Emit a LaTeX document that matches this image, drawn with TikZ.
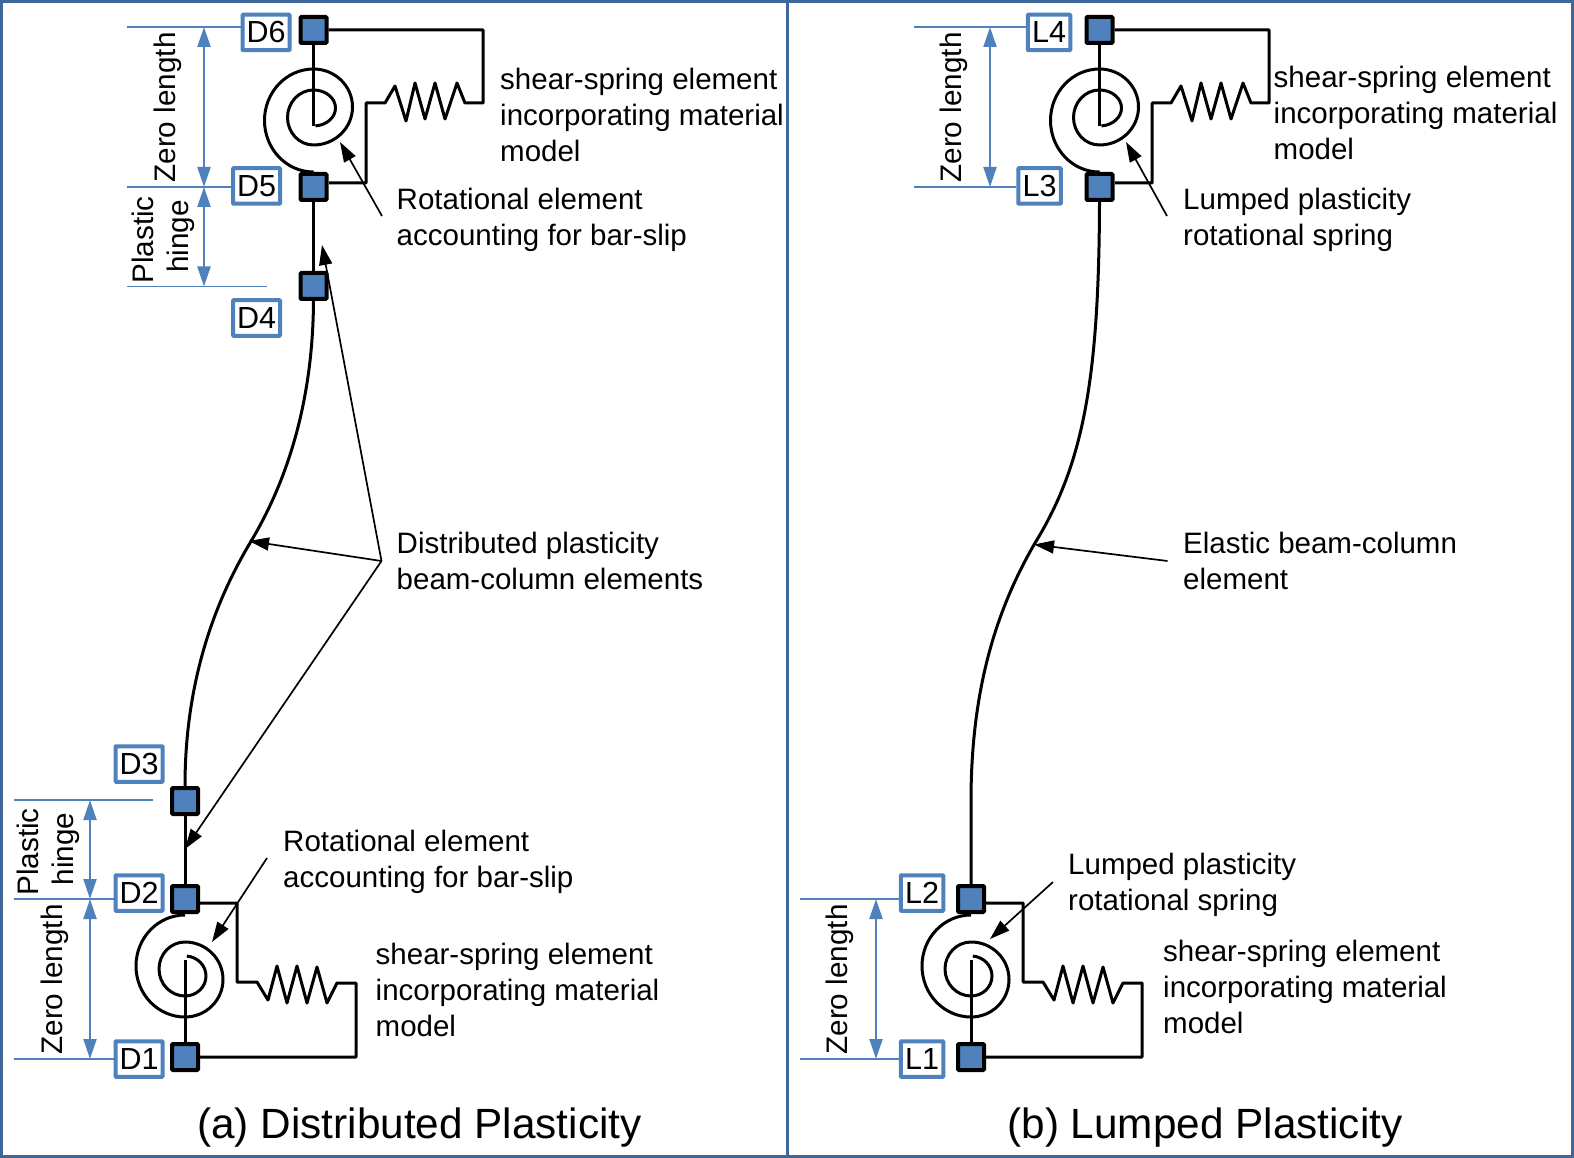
\documentclass[tikz,border=0pt]{standalone}
\usepackage{fontspec}
\setmainfont{Liberation Sans}
\usetikzlibrary{arrows.meta}
\definecolor{dimblue}{HTML}{4F81BD}
\definecolor{framecol}{HTML}{3F6797}
\tikzset{
  sq/.style={draw=black,line width=4pt,fill=dimblue,rounded corners=1pt,minimum size=26pt,inner sep=0pt},
  tagbox/.style={draw=dimblue,line width=4pt,fill=white,rounded corners=0.8pt,minimum width=47pt,minimum height=35.5pt,inner sep=0pt,font=\fontsize{30.5}{36}\selectfont},
  tagnarrow/.style={tagbox,minimum width=42.5pt},
  wire/.style={draw=black,line width=3pt,line join=round},
  dimline/.style={draw=dimblue,line width=1.6pt},
  dimarrow/.style={draw=dimblue,line width=2pt,{Triangle[length=20pt,width=13pt]}-{Triangle[length=20pt,width=13pt]}},
  callout/.style={draw=black,line width=1.7pt,-{Triangle[length=20pt,width=13pt]}},
  lab/.style={anchor=base west,inner sep=0pt,align=left,font=\fontsize{29.5}{36}\selectfont},
  vlab/.style={anchor=base,rotate=90,inner sep=0pt,font=\fontsize{29.7}{36}\selectfont},
  caption/.style={anchor=base,inner sep=0pt,font=\fontsize{42.3}{50}\selectfont},
}
\newcommand{\topjoint}[2]{%
  \draw[wire] (#1.east) -- (483,30) -- (483,103) -- (465,103) -- (457,83) -- (445,119) -- (435,83) -- (425,119) -- (415,83) -- (406,121) -- (395,86) -- (385,103) -- (366,103) -- (366,183) -- (329,183);
  \draw[wire] (#1.south) -- (313.5,126);
  \draw[wire] (313.5,172) arc[start angle=270,end angle=90,x radius=49pt,y radius=51.5pt]
     arc[start angle=90,end angle=-90,x radius=39pt,y radius=38pt]
     arc[start angle=270,end angle=90,x radius=26pt,y radius=27.5pt]
     arc[start angle=90,end angle=-85,x radius=22pt,y radius=18pt];
}
\newcommand{\botjoint}[2]{%
  \draw[wire] (200,903) -- (237,903) -- (237,982) -- (257,982) -- (268,1000) -- (277,966) -- (287,1003) -- (297,966) -- (307,1003) -- (317,967) -- (327,1003) -- (337,983) -- (356,983) -- (356,1057) -- (#1.east);
  \draw[wire] (#1.north) -- (185,960);
  \draw[wire] (185,915) arc[start angle=90,end angle=270,x radius=49pt,y radius=51pt]
     arc[start angle=-90,end angle=90,x radius=38pt,y radius=37.5pt]
     arc[start angle=90,end angle=270,x radius=26pt,y radius=27pt]
     arc[start angle=-90,end angle=85,x radius=21pt,y radius=20pt];
}
\begin{document}
\begin{tikzpicture}[x=1pt,y=-1pt]
\useasboundingbox (0,0) rectangle (1574,1158);
\fill[white] (0,0) rectangle (1574,1158);
\draw[framecol,line width=3pt] (1.5,1.5) rectangle (1572.5,1156.5);
\draw[framecol,line width=3pt] (787,1.5) -- (787,1156.5);

% ---- left panel squares and tags
\node[sq] (D6) at (313.5,30) {};
\node[sq] (D5) at (313.5,187) {};
\node[sq] (D4) at (313.5,286) {};
\node[sq] (D3) at (185,801) {};
\node[sq] (D2) at (185,899) {};
\node[sq] (D1) at (185,1057) {};
\node[tagbox] (tD6) at (266,32.5) {D6};
\node[tagbox] (tD5) at (256.5,186) {D5};
\node[tagbox] (tD4) at (256.5,318) {D4};
\node[tagbox] (tD3) at (139,764) {D3};
\node[tagbox] (tD2) at (139,893) {D2};
\node[tagbox] (tD1) at (139,1059) {D1};

\topjoint{D6}{D5}
\botjoint{D1}{D2}
\draw[wire] (D5.south) -- (D4.north);
\draw[wire] (D2.north) -- (D3.south);
\draw[wire] (D4.south) .. controls (313,380) and (297,465) .. (250,543) .. controls (210,610) and (185,690) .. (D3.north);

% ---- left dimensions
\coordinate (a27) at (127,27);
\coordinate (a187) at (127,187);
\coordinate (a286) at (127,286.5);
\coordinate (e286) at (267,286.5);
\coordinate (a799) at (14,800);
\coordinate (e799) at (153,800);
\coordinate (a899) at (14,899);
\coordinate (a1058) at (14,1059);
\draw[dimline] (a27) -- (a27-|tD6.west);
\draw[dimline] (a187) -- (a187-|tD5.west);
\draw[dimline] (a286) -- (e286);
\draw[dimline] (a799) -- (e799);
\draw[dimline] (a899) -- (a899-|tD2.west);
\draw[dimline] (a1058) -- (a1058-|tD1.west);
\coordinate (b27) at (204,27);
\coordinate (b187) at (204,187);
\coordinate (b286) at (204,286.5);
\coordinate (b799) at (90,800);
\coordinate (b899) at (90,899);
\coordinate (b1058) at (90,1059);
\draw[dimarrow] (b27) -- (b187);
\draw[dimarrow] (b187) -- (b286);
\draw[dimarrow] (b799) -- (b899);
\draw[dimarrow] (b899) -- (b1058);
\node[vlab] (zl1) at (175,107.5) {Zero length};
\node[vlab] (ph1) at (153,240) {Plastic};
\node[vlab] (hg1) at (188,236.5) {hinge};
\node[vlab] (ph2) at (38,852) {Plastic};
\node[vlab] (hg2) at (73,849) {hinge};
\node[vlab] (zl2) at (62,979.5) {Zero length};

% ---- left callouts
\coordinate (J) at (381.5,561);
\coordinate (t1) at (322,245);
\coordinate (t2) at (249,541);
\coordinate (t3) at (185,849);
\coordinate (r1s) at (382,216);
\coordinate (r1t) at (340,142);
\coordinate (r2s) at (267,858);
\coordinate (r2t) at (212,942);
\draw[callout] (J) -- (t1);
\draw[callout] (J) -- (t2);
\draw[callout] (J) -- (t3);
\draw[callout] (r1s) -- (r1t);
\draw[callout] (r2s) -- (r2t);

\node[lab] (s1) at (500,162) {shear-spring element\\incorporating material\\model};
\node[lab] (r1) at (396.5,246) {Rotational element\\accounting for bar-slip};
\node[lab] (d1) at (396.5,589) {Distributed plasticity\\beam-column elements};
\node[lab] (r2) at (283,887) {Rotational element\\accounting for bar-slip};
\node[lab] (s2) at (375.5,1036) {shear-spring element\\incorporating material\\model};
\node[caption] (capa) at (419.5,1138) {(a) Distributed Plasticity};

% ---- right panel
\node[sq] (L4) at (1099.5,30) {};
\node[sq] (L3) at (1099.5,187) {};
\node[sq] (L2) at (971,899) {};
\node[sq] (L1) at (971,1057) {};
\node[tagnarrow] (tL4) at (1049,32.5) {L4};
\node[tagnarrow] (tL3) at (1039.5,186) {L3};
\node[tagnarrow] (tL2) at (922,893) {L2};
\node[tagnarrow] (tL1) at (922,1059) {L1};
\begin{scope}[shift={(786pt,0pt)}]
\topjoint{L4}{L3}
\botjoint{L1}{L2}
\end{scope}
\draw[wire] (L3.south) .. controls (1099,380) and (1083,465) .. (1035,543) .. controls (996,610) and (971,690) .. (971,801) -- (L2.north);

\coordinate (c27) at (914,27);
\coordinate (c187) at (914,187);
\coordinate (c899) at (800,899);
\coordinate (c1058) at (800,1059);
\draw[dimline] (c27) -- (c27-|tL4.west);
\draw[dimline] (c187) -- (c187-|tL3.west);
\draw[dimline] (c899) -- (c899-|tL2.west);
\draw[dimline] (c1058) -- (c1058-|tL1.west);
\coordinate (f27) at (990,27);
\coordinate (f187) at (990,187);
\coordinate (f899) at (876,899);
\coordinate (f1058) at (876,1059);
\draw[dimarrow] (f27) -- (f187);
\draw[dimarrow] (f899) -- (f1058);
\node[vlab] (zl3) at (961,107.5) {Zero length};
\node[vlab] (zl4) at (847,979.5) {Zero length};

\coordinate (q1s) at (1167,216);
\coordinate (q1t) at (1126,142);
\coordinate (q2s) at (1167.5,561);
\coordinate (q2t) at (1034,544.5);
\coordinate (q3s) at (1053,882);
\coordinate (q3t) at (990,939);
\draw[callout] (q1s) -- (q1t);
\draw[callout] (q2s) -- (q2t);
\draw[callout] (q3s) -- (q3t);

\node[lab] (s3) at (1273.5,160) {shear-spring element\\incorporating material\\model};
\node[lab] (m1) at (1183,246) {Lumped plasticity\\rotational spring};
\node[lab] (e1) at (1183,589) {Elastic beam-column\\element};
\node[lab] (m2) at (1068,910) {Lumped plasticity\\rotational spring};
\node[lab] (s4) at (1163,1033) {shear-spring element\\incorporating material\\model};
\node[caption] (capb) at (1205,1138) {(b) Lumped Plasticity};
\end{tikzpicture}
\end{document}
